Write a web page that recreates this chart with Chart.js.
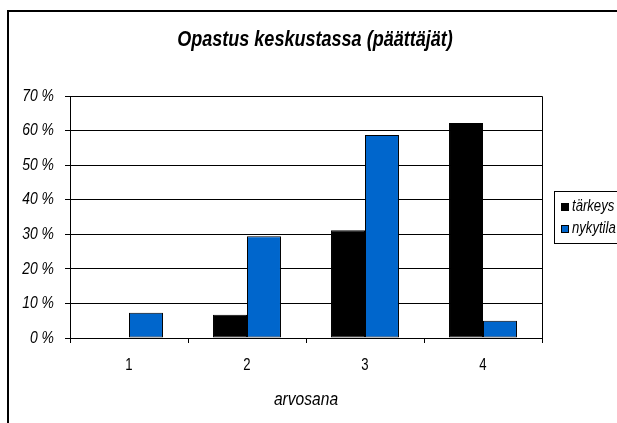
<!DOCTYPE html>
<html>
<head>
<meta charset="utf-8">
<script src="https://cdn.jsdelivr.net/npm/chart.js@4"></script>
<style>
  html, body { margin: 0; padding: 0; background: #fff; }
  #wrap { width: 617px; height: 423px; }
</style>
</head>
<body>
<div id="wrap"><canvas id="chart" width="617" height="423"></canvas></div>
<script>
// Values (percent)
const categories = ["1", "2", "3", "4"];
const seriesNames = ["tärkeys", "nykytila"];
const tarkeys = [0, 6.7, 31.2, 62.2];
const nykytila = [7.3, 29.4, 58.7, 5.0];
const yTicks = [0, 10, 20, 30, 40, 50, 60, 70];
const chartTitle = "Opastus keskustassa (päättäjät)";
const xTitle = "arvosana";

const FAMILY = "'Liberation Sans', Arial, sans-serif";
const NARROW = 0.82; // no Arial Narrow here, so squeeze Liberation Sans
const seriesColors = ["#000000", "#0066cc"];

// fillText squeezed horizontally around its anchor point
function narrowText(ctx, text, x, y, font, align) {
    ctx.save();
    ctx.font = font;
    ctx.fillStyle = "#000";
    ctx.textAlign = align;
    ctx.textBaseline = "middle";
    ctx.translate(x, y);
    ctx.scale(NARROW, 1);
    ctx.fillText(text, 0, 0);
    ctx.restore();
}

// Draws the outer frame, the plot box, all text and the legend
const framePlugin = {
    id: "frame",
    beforeDraw(chart) {
        const ctx = chart.ctx;
        ctx.save();
        ctx.fillStyle = "#fff";
        ctx.fillRect(0, 0, chart.width, chart.height);
        ctx.strokeStyle = "#000";
        ctx.lineWidth = 2;
        ctx.strokeRect(8, 11, 700, 500);
        ctx.restore();
    },
    afterDraw(chart) {
        const ctx = chart.ctx;
        const a = chart.chartArea;
        const xs = chart.scales.x;
        const ys = chart.scales.y;
        ctx.save();
        ctx.strokeStyle = "#000";
        ctx.lineWidth = 1;
        ctx.beginPath();
        ctx.moveTo(Math.round(a.left) + 0.5, Math.round(a.top) + 0.5);
        ctx.lineTo(Math.round(a.right) + 0.5, Math.round(a.top) + 0.5);
        ctx.lineTo(Math.round(a.right) + 0.5, Math.round(a.bottom) + 0.5);
        ctx.stroke();
        ctx.restore();

        // tick labels from the library's scales
        ys.ticks.forEach(t => {
            narrowText(ctx, t.label, 54, ys.getPixelForValue(t.value), "italic 17px " + FAMILY, "right");
        });
        xs.ticks.forEach((t, i) => {
            narrowText(ctx, t.label, xs.getPixelForTick(i), 365.5, "16px " + FAMILY, "center");
        });

        // titles
        narrowText(ctx, xTitle, (a.left + a.right) / 2, 400, "italic 19px " + FAMILY, "center");
        narrowText(ctx, chartTitle, 315, 40, "italic bold 22px " + FAMILY, "center");

        // legend
        const lx = 554, ly = 191, lh = 52;
        ctx.save();
        ctx.strokeStyle = "#000";
        ctx.lineWidth = 1;
        ctx.strokeRect(lx + 0.5, ly + 0.5, 120, lh);
        chart.data.datasets.forEach((ds, i) => {
            const cy = ly + 16 + i * 22;
            ctx.fillStyle = ds.backgroundColor;
            ctx.fillRect(lx + 7, cy - 4, 8, 8);
            ctx.strokeStyle = "#000";
            ctx.strokeRect(lx + 7.5, cy - 3.5, 7, 7);
            narrowText(ctx, ds.label, lx + 18, cy, "italic 16px " + FAMILY, "left");
        });
        ctx.restore();
    }
};

new Chart(document.getElementById("chart"), {
    type: "bar",
    data: {
        labels: categories,
        datasets: [
            {
                label: seriesNames[0],
                data: tarkeys,
                backgroundColor: seriesColors[0],
                borderColor: "#000",
                borderWidth: 1,
                borderSkipped: false
            },
            {
                label: seriesNames[1],
                data: nykytila,
                backgroundColor: seriesColors[1],
                borderColor: "#000",
                borderWidth: 1,
                borderSkipped: false
            }
        ]
    },
    options: {
        responsive: false,
        animation: false,
        layout: { padding: { left: 8, top: 96, right: 75, bottom: 0 } },
        datasets: { bar: { barPercentage: 1, categoryPercentage: 0.576 } },
        plugins: {
            legend: { display: false },
            title: { display: false },
            tooltip: { enabled: false }
        },
        scales: {
            x: {
                afterFit(scale) { scale.height = 85; },
                grid: {
                    offset: true,
                    drawOnChartArea: false,
                    drawTicks: true,
                    tickLength: 5,
                    color: "#000"
                },
                border: { color: "#000", width: 1 },
                ticks: { color: "rgba(0,0,0,0)", font: { family: FAMILY, size: 16 } }
            },
            y: {
                min: 0,
                max: 70,
                afterFit(scale) { scale.width = 62; },
                afterBuildTicks(scale) { scale.ticks = yTicks.map(v => ({ value: v })); },
                grid: {
                    color: "#000",
                    lineWidth: 1,
                    drawTicks: true,
                    tickLength: 5
                },
                border: { color: "#000", width: 1 },
                ticks: {
                    color: "rgba(0,0,0,0)",
                    font: { family: FAMILY, size: 17, style: "italic" },
                    callback: v => v + " %"
                }
            }
        }
    },
    plugins: [framePlugin]
});
</script>
</body>
</html>
